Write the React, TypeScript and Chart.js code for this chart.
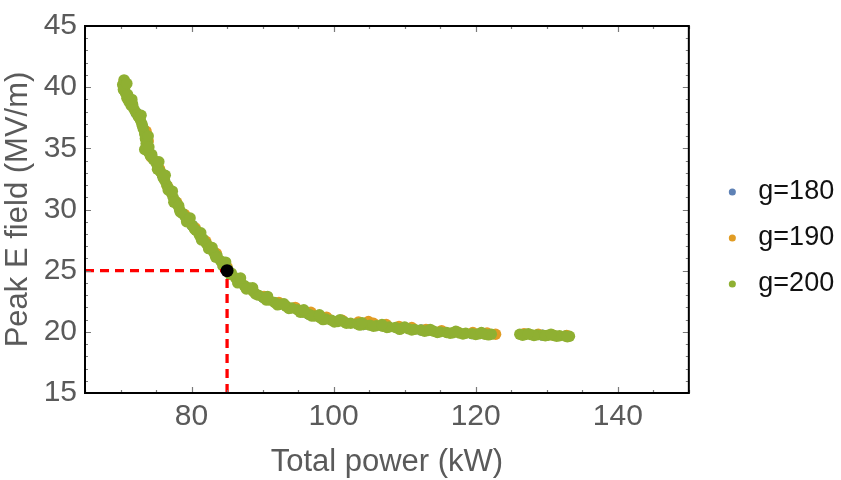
import React, { useEffect, useRef } from "react";
import { Chart, registerables } from "chart.js";

Chart.register(...registerables);

// ---- data ----
const SERIES_LABELS = ["g=180", "g=190", "g=200"];
const SERIES_COLORS = ["#5E81B5", "#E19C24", "#8FB032"];

const G180: [number, number][] = [
  [72.2, 37.9], [75.9, 32.8], [80.1, 28.7], [85.1, 25.1], [90.1, 22.8],
  [96.5, 21.45], [104.2, 20.6], [112.3, 20.15], [119.5, 19.85], [129.4, 19.73],
];

const G190: [number, number][] = [
  [70.5, 40.5], [71.3, 38.9], [72.6, 37.6], [73.6, 36.4], [73.9, 35.6], [74.3, 34.3],
  [75.5, 33.3], [76.6, 31.9], [77.9, 30.6], [79.0, 29.6], [80.5, 28.5], [82.0, 27.4],
  [83.5, 26.4], [85.0, 25.3], [86.6, 24.3], [88.3, 23.5], [90.2, 22.9], [92.3, 22.4],
  [94.6, 22.0], [96.8, 21.6], [99.0, 21.2], [101.2, 20.95], [103.5, 20.8], [104.9, 20.85],
  [105.6, 20.7], [107.4, 20.6], [109.2, 20.45], [111.0, 20.35], [113.0, 20.2], [115.2, 20.1],
  [117.4, 20.0], [119.6, 19.95], [121.6, 19.9], [122.8, 19.8], [126.8, 19.85], [128.8, 19.8],
  [130.8, 19.75], [132.8, 19.7],
];

const G200: [number, number][] = [
  [70.5, 40.6], [70.3, 40.2], [70.4, 39.8], [70.7, 39.5], [70.9, 39.1], [71.2, 38.8],
  [71.5, 38.5], [71.9, 38.2], [72.2, 37.9], [72.5, 37.6], [72.8, 37.3], [73.0, 37.0],
  [73.2, 36.6], [73.4, 36.2], [73.5, 35.8], [73.6, 35.4], [73.7, 35.0], [73.9, 34.7],
  [74.2, 34.4], [74.6, 34.1], [75.0, 33.8], [75.3, 33.4], [75.6, 33.1], [75.9, 32.8],
  [76.2, 32.4], [76.5, 32.0], [76.8, 31.7], [77.1, 31.4], [77.4, 31.0], [77.7, 30.7],
  [78.0, 30.4], [78.3, 30.0], [78.7, 29.7], [79.1, 29.4], [79.6, 29.1], [80.1, 28.7],
  [80.6, 28.3], [81.1, 27.9], [81.6, 27.6], [82.1, 27.2], [82.6, 26.9], [83.1, 26.5],
  [83.6, 26.2], [84.1, 25.8], [84.6, 25.5], [85.1, 25.1], [85.6, 24.8], [86.2, 24.4],
  [86.8, 24.1], [87.4, 23.8], [88.0, 23.6], [88.7, 23.3], [89.4, 23.0], [90.1, 22.8],
  [90.9, 22.6], [91.7, 22.4], [92.5, 22.25], [93.3, 22.1], [94.1, 21.95], [94.9, 21.8],
  [95.7, 21.6], [96.5, 21.45], [97.3, 21.3], [98.1, 21.15], [98.9, 21.05], [99.7, 20.95],
  [100.6, 20.85], [101.5, 20.8], [102.4, 20.7], [103.3, 20.65], [104.2, 20.6], [105.1, 20.55],
  [106.0, 20.5], [106.9, 20.45], [107.8, 20.4], [108.7, 20.35], [109.6, 20.3], [110.5, 20.25],
  [111.4, 20.2], [112.3, 20.15], [113.2, 20.1], [114.1, 20.05], [115.0, 20.0], [115.9, 19.95],
  [116.8, 19.92], [117.7, 19.9], [118.6, 19.88], [119.5, 19.85], [120.4, 19.83], [121.3, 19.8],
  [122.2, 19.8],
  [126.2, 19.8], [127.0, 19.78], [127.8, 19.77], [128.6, 19.75], [129.4, 19.73], [130.2, 19.72],
  [131.0, 19.7], [131.8, 19.68], [132.6, 19.66], [133.2, 19.64],
  // second band of samples
  [70.6, 40.0], [71.0, 39.4], [71.7, 38.6], [72.4, 37.8], [73.1, 36.8], [73.8, 35.5],
  [73.4, 34.9], [74.4, 34.5], [75.2, 33.3], [76.0, 32.6], [76.7, 31.6], [77.5, 30.6],
  [78.4, 29.8], [79.3, 29.0], [80.4, 28.4], [81.4, 27.5], [82.4, 26.8], [83.4, 26.1],
  [84.4, 25.4], [85.4, 24.7], [86.5, 24.0], [87.7, 23.5], [89.0, 23.1], [90.5, 22.6],
  [92.1, 22.2], [93.7, 21.9], [95.3, 21.6], [96.9, 21.3], [98.5, 21.0], [100.1, 20.8],
  [101.8, 20.7], [103.7, 20.55], [105.6, 20.45], [107.5, 20.35], [109.3, 20.2], [111.0, 20.15],
  [112.8, 20.05], [114.6, 19.95], [116.4, 19.88], [118.2, 19.82], [120.0, 19.78], [121.8, 19.75],
  [126.6, 19.72], [128.2, 19.7], [129.8, 19.68], [131.4, 19.64], [132.9, 19.6],
  // third band of samples
  [70.9, 40.3], [71.6, 39.0], [72.9, 37.7], [73.9, 36.0], [74.0, 35.1], [75.4, 33.9],
  [76.3, 32.8], [77.3, 31.5], [78.2, 30.3], [79.8, 29.3], [81.3, 28.1], [82.9, 26.9],
  [84.8, 25.7], [86.9, 24.4], [88.6, 23.6], [90.7, 22.9], [93.0, 22.3], [95.8, 21.8],
  [98.0, 21.4], [100.9, 21.0], [104.0, 20.75], [106.8, 20.6], [110.0, 20.4], [113.6, 20.2],
  [117.2, 20.05], [120.8, 19.95], [127.4, 19.85], [130.6, 19.8],
];

const OPERATING_POINT: [number, number] = [85, 25];

const X_MIN = 65;
const X_MAX = 150;
const Y_MIN = 15;
const Y_MAX = 45;
const X_TICKS = [80, 100, 120, 140];
const Y_TICKS = [15, 20, 25, 30, 35, 40, 45];
const X_MINOR_STEP = 5;
const Y_MINOR_STEP = 1;

const X_TITLE = "Total power (kW)";
const Y_TITLE = "Peak E field (MV/m)";

const FONT = "'Liberation Sans', Arial, sans-serif";
const LABEL_GRAY = "#5a5a5a";
const TICK_GRAY = "#7a7a7a";

const toPts = (arr: [number, number][]) => arr.map(([x, y]) => ({ x, y }));

const framePlugin = {
  id: "mmaFrame",
  afterDatasetsDraw(chart: any) {
    const { ctx, chartArea } = chart;
    const { left, right, top, bottom } = chartArea;
    const xs = chart.scales.x;
    const ys = chart.scales.y;
    ctx.save();
    ctx.strokeStyle = TICK_GRAY;
    ctx.lineWidth = 1.2;
    const isMajorX = (v: number) => X_TICKS.some((t) => Math.abs(t - v) < 1e-6);
    const isMajorY = (v: number) => Y_TICKS.some((t) => Math.abs(t - v) < 1e-6);
    for (let v = X_MIN; v <= X_MAX + 1e-6; v += X_MINOR_STEP) {
      const px = Math.round(xs.getPixelForValue(v)) + 0.5;
      const len = isMajorX(v) ? 6 : 3;
      ctx.beginPath();
      ctx.moveTo(px, bottom);
      ctx.lineTo(px, bottom - len);
      ctx.moveTo(px, top);
      ctx.lineTo(px, top + len);
      ctx.stroke();
    }
    for (let v = Y_MIN; v <= Y_MAX + 1e-6; v += Y_MINOR_STEP) {
      const py = Math.round(ys.getPixelForValue(v)) + 0.5;
      const len = isMajorY(v) ? 6 : 3;
      ctx.beginPath();
      ctx.moveTo(left, py);
      ctx.lineTo(left + len, py);
      ctx.moveTo(right, py);
      ctx.lineTo(right - len, py);
      ctx.stroke();
    }
    ctx.strokeStyle = "#000";
    ctx.lineWidth = 2;
    ctx.strokeRect(left, top, right - left, bottom - top);
    ctx.restore();
  },
};

export default function App() {
  const ref = useRef<HTMLCanvasElement | null>(null);

  useEffect(() => {
    if (!ref.current) return;
    Chart.defaults.font.family = FONT;
    const seriesData = [G180, G190, G200];
    const chart = new Chart(ref.current, {
      type: "scatter",
      data: {
        datasets: [
          ...seriesData.map((d, i) => ({
            label: SERIES_LABELS[i],
            data: toPts(d),
            backgroundColor: SERIES_COLORS[i],
            borderColor: SERIES_COLORS[i],
            borderWidth: 0,
            pointRadius: 5.7,
            pointHoverRadius: 5.7,
            order: 4 - i,
          })),
          {
            label: "hline",
            data: [
              { x: X_MIN, y: OPERATING_POINT[1] },
              { x: OPERATING_POINT[0], y: OPERATING_POINT[1] },
            ],
            showLine: true,
            borderColor: "#FF0000",
            backgroundColor: "#FF0000",
            borderWidth: 3.3,
            borderDash: [9, 6],
            pointRadius: 0,
            order: 1,
          },
          {
            label: "vline",
            data: [
              { x: OPERATING_POINT[0], y: Y_MIN },
              { x: OPERATING_POINT[0], y: OPERATING_POINT[1] },
            ],
            showLine: true,
            borderColor: "#FF0000",
            backgroundColor: "#FF0000",
            borderWidth: 3.3,
            borderDash: [9, 6],
            pointRadius: 0,
            order: 1,
          },
          {
            label: "point",
            data: [{ x: OPERATING_POINT[0], y: OPERATING_POINT[1] }],
            backgroundColor: "#000",
            borderColor: "#000",
            borderWidth: 0,
            pointRadius: 6.5,
            order: 0,
          },
        ],
      },
      options: {
        animation: false,
        responsive: true,
        maintainAspectRatio: false,
        layout: { padding: { left: 0, right: 0, top: 0, bottom: 4 } },
        scales: {
          x: {
            type: "linear",
            position: "bottom",
            min: X_MIN,
            max: X_MAX,
            afterBuildTicks: (s: any) => {
              s.ticks = X_TICKS.map((v) => ({ value: v }));
            },
            afterFit: (s: any) => {
              s.height = 83;
            },
            grid: { display: false, drawTicks: false },
            border: { display: false },
            ticks: { color: LABEL_GRAY, font: { size: 30 }, padding: 6, maxRotation: 0 },
            title: {
              display: true,
              text: X_TITLE,
              color: LABEL_GRAY,
              font: { size: 31 },
              padding: { top: 0, bottom: -5 },
            },
          },
          y: {
            type: "linear",
            position: "left",
            min: Y_MIN,
            max: Y_MAX,
            afterBuildTicks: (s: any) => {
              s.ticks = Y_TICKS.map((v) => ({ value: v }));
            },
            afterFit: (s: any) => {
              s.width = 85;
            },
            grid: { display: false, drawTicks: false },
            border: { display: false },
            ticks: { color: LABEL_GRAY, font: { size: 30 }, padding: 8 },
            title: {
              display: true,
              text: Y_TITLE,
              color: LABEL_GRAY,
              font: { size: 31 },
              padding: { top: 0, bottom: 0 },
            },
          },
          xTop: {
            type: "linear",
            position: "top",
            display: true,
            min: 0,
            max: 1,
            grid: { display: false, drawTicks: false },
            border: { display: false },
            ticks: { display: false },
            afterFit: (s: any) => {
              s.height = 19;
            },
          },
          yR: {
            type: "linear",
            position: "right",
            display: true,
            min: 0,
            max: 1,
            grid: { display: false, drawTicks: false },
            border: { display: false },
            ticks: { display: false },
            afterFit: (s: any) => {
              s.width = 12;
            },
          },
        },
        plugins: {
          tooltip: { enabled: false },
          legend: {
            position: "right",
            align: "center",
            labels: {
              usePointStyle: true,
              pointStyle: "circle",
              boxWidth: 25,
              boxHeight: 5,
              padding: 19,
              color: "#111",
              font: { size: 27 },
              filter: (item: any) => SERIES_LABELS.includes(item.text),
              sort: (a: any, b: any) => a.datasetIndex - b.datasetIndex,
            },
          },
        },
      },
      plugins: [framePlugin],
    } as any);
    return () => chart.destroy();
  }, []);

  return (
    <div
      style={{
        position: "fixed",
        left: 0,
        top: 0,
        width: "841px",
        height: "480px",
        background: "#fff",
      }}
    >
      <canvas ref={ref} />
    </div>
  );
}
